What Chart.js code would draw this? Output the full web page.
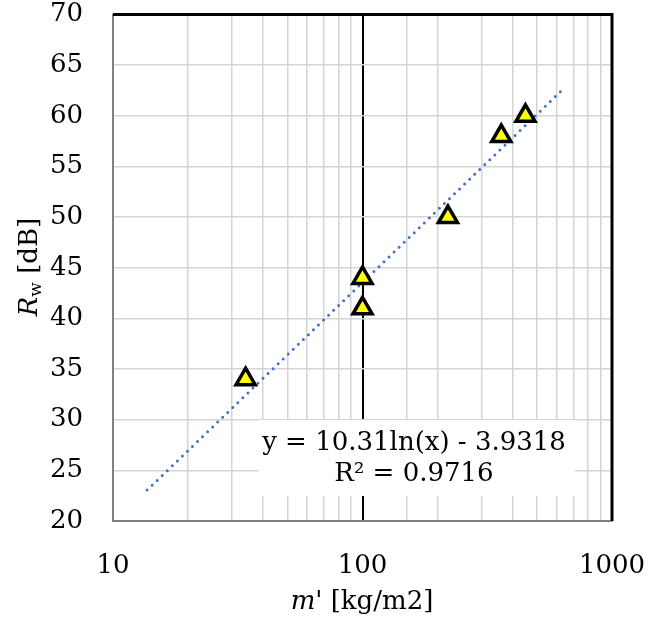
<!DOCTYPE html>
<html>
<head>
<meta charset="utf-8">
<script src="https://cdn.jsdelivr.net/npm/chart.js@4/dist/chart.umd.min.js"></script>
<style>
  html, body { margin: 0; padding: 0; background: #fff; }
  #wrap { width: 649px; height: 617px; }
</style>
</head>
<body>
<div id="wrap"><canvas id="chart" width="649" height="617"></canvas></div>
<script>
// measured surface mass vs weighted sound reduction index
const massValues = [34, 100, 100, 220, 360, 450];
const rwValues = [34, 44, 41, 50, 58, 60];

// logarithmic trendline y = 10.31 ln(x) - 3.9318, drawn between its two ends
const trendX = [13.7, 625];
const trendY = [23.05, 62.44];

const xTickLabels = [10, 100, 1000];
const equationLines = ['y = 10.31ln(x) - 3.9318', 'R² = 0.9716'];

const FONT = '"DejaVu Serif", serif';
const SIZE = 26;

const decorations = {
  id: 'decorations',
  beforeDatasetsDraw(chart) {
    const { ctx, chartArea: a } = chart;
    ctx.save();
    // black top and right frame
    ctx.strokeStyle = '#000';
    ctx.lineWidth = 3;
    ctx.beginPath();
    ctx.moveTo(a.left, a.top);
    ctx.lineTo(a.right, a.top);
    ctx.lineTo(a.right, a.bottom);
    ctx.stroke();
    ctx.restore();
  },
  afterDatasetsDraw(chart) {
    const { ctx } = chart;
    ctx.save();
    // equation box
    ctx.fillStyle = '#fff';
    ctx.fillRect(259, 420, 316, 76);
    ctx.fillStyle = '#000';
    ctx.font = SIZE + 'px ' + FONT;
    ctx.textAlign = 'center';
    ctx.textBaseline = 'middle';
    ctx.fillText(equationLines[0], 414, 443);
    ctx.fillText(equationLines[1], 414, 474);
    ctx.restore();
  },
  afterDraw(chart) {
    const { ctx } = chart;
    ctx.save();
    ctx.fillStyle = '#000';
    ctx.textBaseline = 'middle';

    // x axis title: m' [kg/m2]
    ctx.font = 'italic ' + SIZE + 'px ' + FONT;
    const m = 'm';
    const rest = "' [kg/m2]";
    const wm = ctx.measureText(m).width;
    ctx.font = SIZE + 'px ' + FONT;
    const wr = ctx.measureText(rest).width;
    let x = 362 - (wm + wr) / 2;
    ctx.font = 'italic ' + SIZE + 'px ' + FONT;
    ctx.fillText(m, x, 602);
    ctx.font = SIZE + 'px ' + FONT;
    ctx.fillText(rest, x + wm, 602);

    // y axis title: R_w [dB], rotated
    ctx.translate(30, 267);
    ctx.rotate(-Math.PI / 2);
    ctx.font = 'italic ' + SIZE + 'px ' + FONT;
    const wR = ctx.measureText('R').width;
    ctx.font = '17px ' + FONT;
    const ww = ctx.measureText('w').width;
    ctx.font = SIZE + 'px ' + FONT;
    const wd = ctx.measureText(' [dB]').width;
    x = -(wR + ww + wd) / 2;
    ctx.font = 'italic ' + SIZE + 'px ' + FONT;
    ctx.fillText('R', x, 0);
    ctx.font = '17px ' + FONT;
    ctx.fillText('w', x + wR, 7);
    ctx.font = SIZE + 'px ' + FONT;
    ctx.fillText(' [dB]', x + wR + ww, 0);
    ctx.restore();
  }
};

new Chart(document.getElementById('chart'), {
  type: 'scatter',
  data: {
    datasets: [
      {
        label: 'Rw',
        data: massValues.map((v, i) => ({ x: v, y: rwValues[i] })),
        pointStyle: 'triangle',
        pointRadius: 11,
        backgroundColor: '#ffff00',
        borderColor: '#000',
        borderWidth: 3.5,
        order: 1
      },
      {
        label: 'trend',
        type: 'line',
        data: trendX.map((v, i) => ({ x: v, y: trendY[i] })),
        borderColor: '#4472c4',
        borderWidth: 3,
        borderDash: [0, 7],
        borderCapStyle: 'round',
        pointRadius: 0,
        fill: false,
        order: 2
      }
    ]
  },
  options: {
    responsive: false,
    animation: false,
    layout: { padding: { top: 14, right: 37, left: 0, bottom: 0 } },
    plugins: { legend: { display: false }, tooltip: { enabled: false } },
    scales: {
      x: {
        type: 'logarithmic',
        min: 10,
        max: 1000,
        afterFit: s => { s.height = 96; s.paddingLeft = 0; s.paddingRight = 0; },
        border: { color: '#808080', width: 2 },
        grid: {
          drawTicks: false,
          color: c => (c.tick && c.tick.value === 100 ? '#000' : '#d4d4d4'),
          lineWidth: c => (c.tick && c.tick.value === 100 ? 2 : 1.5)
        },
        ticks: {
          autoSkip: false,
          maxRotation: 0,
          padding: 30,
          color: '#000',
          font: { family: FONT, size: SIZE },
          callback: v => (xTickLabels.includes(v) ? String(v) : '')
        }
      },
      y: {
        min: 20,
        max: 70,
        afterFit: s => { s.width = 113; s.paddingTop = 0; s.paddingBottom = 0; },
        border: { color: '#808080', width: 2 },
        grid: { drawTicks: false, color: '#d4d4d4', lineWidth: 1.5 },
        ticks: {
          stepSize: 5,
          padding: 30,
          color: '#000',
          font: { family: FONT, size: SIZE }
        }
      }
    }
  },
  plugins: [decorations]
});
</script>
</body>
</html>
